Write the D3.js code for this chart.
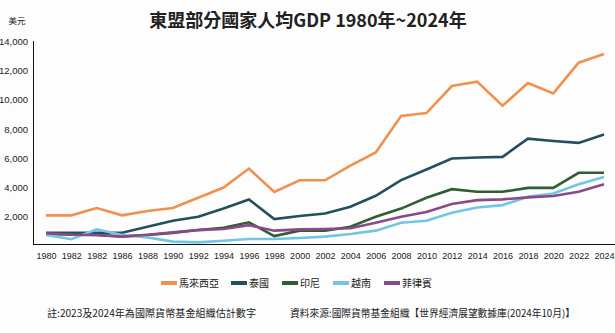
<!DOCTYPE html>
<html>
<head>
<meta charset="utf-8">
<script src="https://cdn.jsdelivr.net/npm/d3@7"></script>
<style>
  body { margin: 0; background: #fdfdfd; }
  svg { display: block; font-family: "Noto Sans CJK TC", "Noto Sans", sans-serif; }
</style>
</head>
<body>
<div id="chart"></div>
<script>
// years on the x axis, labels as printed (the original repeats 1982)
var years = [1980,1982,1984,1986,1988,1990,1992,1994,1996,1998,2000,2002,2004,2006,2008,2010,2012,2014,2016,2018,2020,2022,2024];
var xLabels = ["1980","1982","1982","1986","1988","1990","1992","1994","1996","1998","2000","2002","2004","2006","2008","2010","2012","2014","2016","2018","2020","2022","2024"];
var yTicks = [2000,4000,6000,8000,10000,12000,14000];

var seriesNames = ["馬來西亞","泰國","印尼","越南","菲律賓"];
var seriesColors = ["#f0914c","#23505f","#2f5f30","#72c6e4","#8a4a8a"];

var malaysia    = [2100,2100,2600,2100,2400,2600,3300,4000,5300,3700,4500,4500,5500,6400,8900,9100,10950,11250,9600,11150,10450,12550,13150];
var thailand    = [910,910,910,910,1320,1730,2000,2570,3190,1840,2050,2230,2690,3440,4510,5240,5990,6060,6100,7350,7190,7060,7630];
var indonesia   = [850,780,760,650,750,900,1090,1250,1620,680,1050,1050,1320,2000,2560,3300,3890,3710,3710,3980,3980,5010,5010];
var vietnam     = [750,460,1140,750,590,300,250,360,480,480,550,640,820,1050,1590,1730,2280,2640,2800,3370,3600,4230,4730];
var philippines = [870,770,750,640,770,935,1090,1160,1430,1050,1140,1160,1210,1590,2000,2320,2870,3140,3190,3330,3420,3710,4230];

var seriesValues = [malaysia, thailand, indonesia, vietnam, philippines];

var width = 615, height = 333;

var svg = d3.select("#chart").append("svg")
    .attr("width", width)
    .attr("height", height);

svg.append("rect").attr("width", width).attr("height", height).attr("fill", "#fdfdfd");

var x = d3.scaleLinear().domain([1980, 2024]).range([46, 604]);
var y = d3.scaleLinear().domain([0, 14000]).range([246, 41.5]);

// title
svg.append("text")
    .attr("x", 308).attr("y", 27)
    .attr("text-anchor", "middle")
    .attr("font-size", 18).attr("font-weight", "bold")
    .attr("fill", "#222")
    .text("東盟部分國家人均GDP 1980年~2024年");

svg.append("text")
    .attr("x", 17).attr("y", 24)
    .attr("text-anchor", "middle")
    .attr("font-size", 8.5).attr("fill", "#222")
    .text("美元");

// y axis
var yAxis = d3.axisLeft(y).tickValues(yTicks).tickSize(0).tickPadding(5)
    .tickFormat(d3.format(","));
var gy = svg.append("g").attr("transform", "translate(33,0)").call(yAxis);
gy.select(".domain").remove();
gy.selectAll("text").attr("font-size", 9.5).attr("fill", "#222").attr("font-family", "inherit");

svg.append("line")
    .attr("x1", 33.5).attr("x2", 33.5).attr("y1", 41).attr("y2", 244.5)
    .attr("stroke", "#111").attr("stroke-width", 1);

// x axis
var xAxis = d3.axisBottom(x).tickValues(years).tickSize(0).tickPadding(8)
    .tickFormat(function(d, i) { return xLabels[i]; });
var gx = svg.append("g").attr("transform", "translate(0,244.5)").call(xAxis);
gx.select(".domain").remove();
gx.selectAll("text").attr("font-size", 9).attr("fill", "#222").attr("font-family", "inherit");

svg.append("line")
    .attr("x1", 33).attr("x2", 615).attr("y1", 244.5).attr("y2", 244.5)
    .attr("stroke", "#111").attr("stroke-width", 1);

// lines
var line = d3.line()
    .x(function(d, i) { return x(years[i]); })
    .y(function(d) { return y(d); });

var drawOrder = [2, 0, 1, 3, 4];
svg.append("g").selectAll("path")
    .data(drawOrder)
    .enter().append("path")
    .attr("d", function(k) { return line(seriesValues[k]); })
    .attr("fill", "none")
    .attr("stroke", function(k) { return seriesColors[k]; })
    .attr("stroke-width", 2.6)
    .attr("stroke-linejoin", "miter");

// legend
var legendX = [161, 231, 282, 333, 384];
var legend = svg.append("g").selectAll("g")
    .data(seriesNames)
    .enter().append("g")
    .attr("transform", function(d, i) { return "translate(" + legendX[i] + ",283)"; });
legend.append("rect")
    .attr("x", 0).attr("y", -2).attr("width", 16).attr("height", 4)
    .attr("fill", function(d, i) { return seriesColors[i]; });
legend.append("text")
    .attr("x", 18).attr("y", 3.5)
    .attr("font-size", 10).attr("fill", "#222")
    .text(function(d) { return d; });

// notes
svg.append("text")
    .attr("x", 47).attr("y", 317)
    .attr("font-size", 10).attr("fill", "#222")
    .attr("textLength", 209).attr("lengthAdjust", "spacingAndGlyphs")
    .text("註:2023及2024年為國際貨幣基金組織估計數字");
svg.append("text")
    .attr("x", 290).attr("y", 317)
    .attr("font-size", 10).attr("fill", "#222")
    .attr("textLength", 285).attr("lengthAdjust", "spacingAndGlyphs")
    .text("資料來源:國際貨幣基金組織【世界經濟展望數據庫(2024年10月)】");
</script>
</body>
</html>
